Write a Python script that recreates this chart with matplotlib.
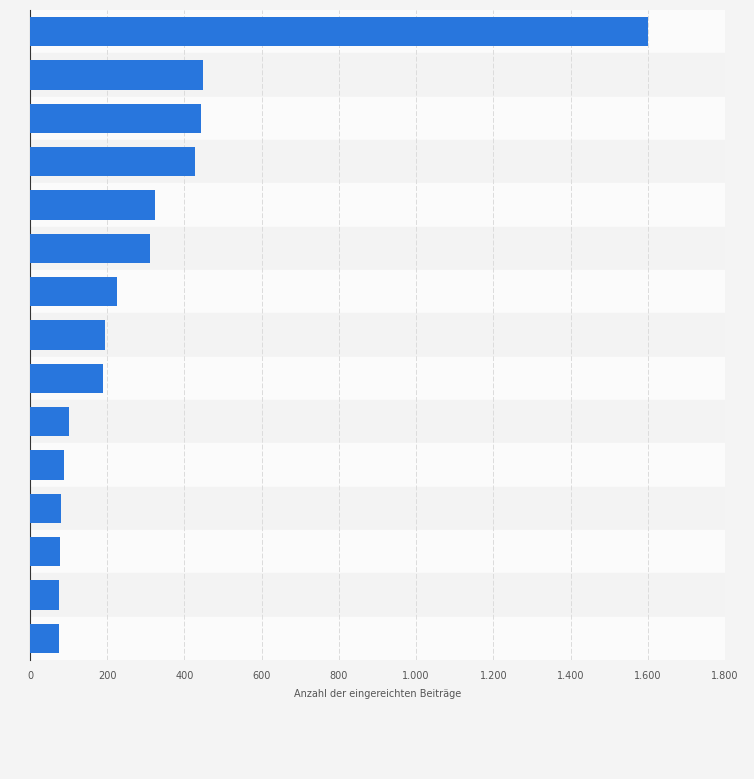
import matplotlib.pyplot as plt
import numpy as np

# values, top to bottom
values = [1600, 448, 444, 428, 324, 311, 225, 194, 189, 101, 88, 80, 78, 75, 75]
xticks = [0, 200, 400, 600, 800, 1000, 1200, 1400, 1600, 1800]
xtick_labels = ['0', '200', '400', '600', '800', '1.000', '1.200', '1.400', '1.600', '1.800']

fig = plt.figure(figsize=(7.54, 7.79), dpi=100)
fig.patch.set_facecolor('#f4f4f4')
ax = fig.add_axes([30 / 754, 1 - 660 / 779, 695 / 754, 650 / 779])
ax.set_facecolor('#fafafa')

n = len(values)
y = np.arange(n)
# alternating row bands
for i in range(n):
    ax.axhspan(i - 0.5, i + 0.5, color='#fbfbfb' if i % 2 == 0 else '#f3f3f3', zorder=0)

ax.barh(y, values, height=0.68, color='#2876dd', zorder=3)
ax.set_ylim(n - 0.5, -0.5)
ax.set_xlim(0, 1800)
ax.set_yticks([])
ax.set_xticks(xticks)
ax.set_xticklabels(xtick_labels, fontsize=7, color='#555555')
ax.tick_params(axis='x', length=0, pad=8)
ax.xaxis.grid(True, color='#dcdcdc', linestyle=(0, (5, 2)), linewidth=0.7, zorder=1)
for s in ['top', 'right', 'bottom']:
    ax.spines[s].set_visible(False)
ax.spines['left'].set_color('#333333')
ax.set_xlabel('Anzahl der eingereichten Beiträge', fontsize=7, color='#555555', labelpad=6)

fig.savefig('out.png', dpi=100, facecolor=fig.get_facecolor())
